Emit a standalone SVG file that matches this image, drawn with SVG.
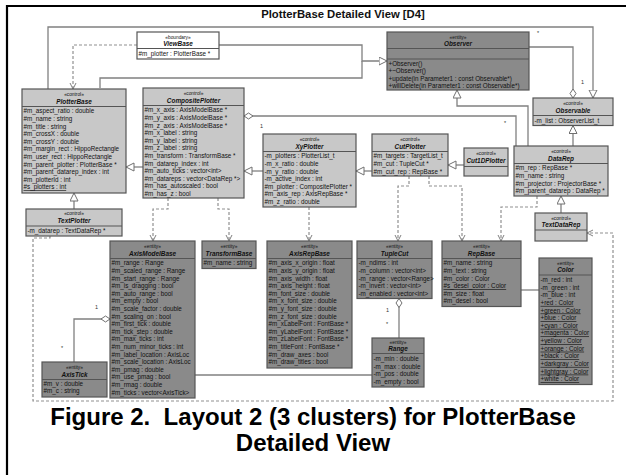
<svg xmlns="http://www.w3.org/2000/svg" width="626" height="475" viewBox="0 0 626 475">
<defs>
<style>
.ctl{fill:#c8c8c8;stroke:#555;stroke-width:1.2}
.ent{fill:#8a8a8a;stroke:#555;stroke-width:1.2}
.bnd{fill:#fff;stroke:#555;stroke-width:1.2}
.sep{fill:none;stroke:#555;stroke-width:1}
.st{font-family:"Liberation Sans",Arial,sans-serif;font-size:4.8px;text-anchor:middle;fill:#111}
.nm{font-family:"Liberation Sans",Arial,sans-serif;font-size:6.4px;font-weight:bold;font-style:italic;text-anchor:middle;fill:#111}
.at{font-family:"Liberation Sans",Arial,sans-serif;font-size:6.3px;fill:#111}
.u{text-decoration:underline}
.c{fill:none;stroke:#808080;stroke-width:1.3}
.d{fill:none;stroke:#909090;stroke-width:1.2;stroke-dasharray:3 2}
.lb{font-family:"Liberation Sans",Arial,sans-serif;font-size:5.5px;fill:#333}
</style>
<marker id="tri" markerUnits="userSpaceOnUse" markerWidth="10" markerHeight="10" viewBox="0 0 10 10" refX="8.5" refY="4.5" orient="auto"><path d="M0.5,0.5 L8.5,4.5 L0.5,8.5 z" fill="#fff" stroke="#707070" stroke-width="1"/></marker>
<marker id="arr" markerUnits="userSpaceOnUse" markerWidth="8" markerHeight="8" viewBox="0 0 8 8" refX="7" refY="3.5" orient="auto"><path d="M1,0.5 L7,3.5 L1,6.5" fill="none" stroke="#808080" stroke-width="1"/></marker>
<marker id="dia" markerUnits="userSpaceOnUse" markerWidth="12" markerHeight="8" viewBox="0 0 12 8" refX="0.5" refY="4" orient="auto"><path d="M0.5,4 L5,1 L9.5,4 L5,7 z" fill="#fff" stroke="#707070" stroke-width="1"/></marker>
</defs>
<rect width="626" height="475" fill="#fff"/>
<path d="M7,475 V6 H626" fill="none" stroke="#000" stroke-width="2.2"/>
<text x="343" y="18" font-family="Liberation Sans, Arial, sans-serif" font-size="11.3" font-weight="bold" text-anchor="middle" fill="#111">PlotterBase Detailed View [D4]</text>

<g id="connectors">
<path class="c" d="M48,89 V27 H593 V98" marker-end="url(#tri)"/>
<path class="c" d="M100,88 V78 H362 V61"/>
<path class="c" d="M219,45 H362 V61 H387" marker-end="url(#tri)"/>
<path class="d" d="M137,45 H73 V89" marker-end="url(#arr)"/>
<path class="c" d="M573,98 V47 H529" marker-start="url(#dia)"/>
<path class="c" d="M528,146 V106 H457 V90" marker-end="url(#tri)"/>
<path class="c" d="M244,116 H516 V146" marker-start="url(#dia)"/>
<path class="c" d="M573,146 V125.5" marker-end="url(#tri)"/>
<path class="c" d="M561,213 V196" marker-end="url(#tri)"/>
<path class="d" d="M537,196 V207 H501 V241" marker-end="url(#arr)"/>
<path class="d" d="M429,176 V186 H462 V241" marker-end="url(#arr)"/>
<path class="d" d="M409,176 V186 H398 V241" marker-end="url(#arr)"/>
<path class="c" d="M464,165 H448" marker-end="url(#tri)"/>
<path class="c" d="M372,171 H356" marker-end="url(#tri)"/>
<path class="c" d="M263,171 H244" marker-end="url(#tri)"/>
<path class="c" d="M143,167 H126" marker-end="url(#tri)"/>
<path class="c" d="M74,209 V193" marker-end="url(#tri)"/>
<path class="d" d="M168,198 V209 H153 V241" marker-end="url(#arr)"/>
<path class="d" d="M218,198 V209 H229 V241" marker-end="url(#arr)"/>
<path class="d" d="M309,207 V241" marker-end="url(#arr)"/>
<path class="c" d="M399,298.5 V338" marker-start="url(#dia)"/>
<path class="c" d="M110,319 H74 V362" marker-start="url(#dia)"/>
<path class="c" d="M195,375 H372"/>
<path class="c" d="M521,290 H539"/>
<path class="d" d="M50,236 V238 H33 V401 H613 V233 H587" marker-end="url(#arr)"/>
<text class="lb" x="537" y="35">*</text>
<text class="lb" x="581" y="84">1</text>
<text class="lb" x="260" y="128">1</text>
<text class="lb" x="504" y="125">*</text>
<text class="lb" x="386" y="312">1</text>
<text class="lb" x="386" y="326">*</text>
<text class="lb" x="95" y="309">1</text>
<text class="lb" x="61" y="350">*</text>
</g>

<g id="ViewBase">
<rect class="bnd" x="137" y="32" width="82" height="27"/>
<path class="sep" d="M137,48.5 H219"/>
<text class="st" x="178" y="38.5">«boundary»</text>
<text class="nm" x="178" y="46">ViewBase</text>
<text class="at" x="138.5" y="56">#m_plotter : PlotterBase *</text>
</g>

<g id="PlotterBase">
<rect class="ctl" x="22" y="89" width="104" height="104"/>
<path class="sep" d="M22,106.5 H126"/>
<text class="st" x="74" y="96">«control»</text>
<text class="nm" x="74" y="103.5">PlotterBase</text>
<text class="at" x="23.5" y="113.3">#m_aspect_ratio : double</text>
<text class="at" x="23.5" y="120.9">#m_name : string</text>
<text class="at" x="23.5" y="128.5">#m_title : string</text>
<text class="at" x="23.5" y="136.1">#m_crossX : double</text>
<text class="at" x="23.5" y="143.7">#m_crossY : double</text>
<text class="at" x="23.5" y="151.3">#m_margin_rect : HippoRectangle</text>
<text class="at" x="23.5" y="158.9">#m_user_rect : HippoRectangle</text>
<text class="at" x="23.5" y="166.5">#m_parent_plotter : PlotterBase *</text>
<text class="at" x="23.5" y="174.1">#m_parent_datarep_index : int</text>
<text class="at" x="23.5" y="181.7">#m_plotterId : int</text>
<text class="at u" x="23.5" y="189.3">#s_plotters : int</text>
</g>

<g id="CompositePlotter">
<rect class="ctl" x="143" y="88" width="101" height="110"/>
<path class="sep" d="M143,105.5 H244"/>
<text class="st" x="193.5" y="95">«control»</text>
<text class="nm" x="193.5" y="102.5">CompositePlotter</text>
<text class="at" x="144.5" y="112.3">#m_x_axis : AxisModelBase *</text>
<text class="at" x="144.5" y="119.9">#m_y_axis : AxisModelBase *</text>
<text class="at" x="144.5" y="127.5">#m_z_axis : AxisModelBase *</text>
<text class="at" x="144.5" y="135.1">#m_x_label : string</text>
<text class="at" x="144.5" y="142.7">#m_y_label : string</text>
<text class="at" x="144.5" y="150.3">#m_z_label : string</text>
<text class="at" x="144.5" y="157.9">#m_transform : TransformBase *</text>
<text class="at" x="144.5" y="165.5">#m_datarep_index : int</text>
<text class="at" x="144.5" y="173.1">#m_auto_ticks : vector&lt;int&gt;</text>
<text class="at" x="144.5" y="180.7">#m_datareps : vector&lt;DataRep *&gt;</text>
<text class="at" x="144.5" y="188.3">#m_has_autoscaled : bool</text>
<text class="at" x="144.5" y="195.9">#m_has_z : bool</text>
</g>

<g id="Observer">
<rect class="ent" x="387" y="32" width="142" height="58"/>
<path class="sep" d="M387,48.5 H529 M387,59 H529"/>
<text class="st" x="458" y="39">«entity»</text>
<text class="nm" x="458" y="46">Observer</text>
<text class="at" x="388.5" y="65.5">+Observer()</text>
<text class="at" x="388.5" y="73">+~Observer()</text>
<text class="at" x="388.5" y="80.5">+update(in Parameter1 : const Observable*)</text>
<text class="at" x="388.5" y="88">+willDelete(in Parameter1 : const Observable*)</text>
</g>

<g id="Observable">
<rect class="ctl" x="533" y="98" width="80" height="27.5"/>
<path class="sep" d="M533,115.5 H613"/>
<text class="st" x="573" y="105">«control»</text>
<text class="nm" x="573" y="112.5">Observable</text>
<text class="at" x="534.5" y="122.5">-m_list : ObserverList_t</text>
</g>

<g id="DataRep">
<rect class="ctl" x="514" y="146" width="94" height="50"/>
<path class="sep" d="M514,163.5 H608"/>
<text class="st" x="561" y="153">«control»</text>
<text class="nm" x="561" y="160.5">DataRep</text>
<text class="at" x="515.5" y="170.3">#m_rep : RepBase *</text>
<text class="at" x="515.5" y="177.9">#m_name : string</text>
<text class="at" x="515.5" y="185.5">#m_projector : ProjectorBase *</text>
<text class="at" x="515.5" y="193.1">#m_parent_datarep : DataRep *</text>
</g>

<g id="XyPlotter">
<rect class="ctl" x="263" y="134" width="93" height="73"/>
<path class="sep" d="M263,151.5 H356"/>
<text class="st" x="309.5" y="141">«control»</text>
<text class="nm" x="309.5" y="148.5">XyPlotter</text>
<text class="at" x="264.5" y="158.3">-m_plotters : PlotterList_t</text>
<text class="at" x="264.5" y="165.9">-m_x_ratio : double</text>
<text class="at" x="264.5" y="173.5">-m_y_ratio : double</text>
<text class="at" x="264.5" y="181.1">-m_active_index : int</text>
<text class="at" x="264.5" y="188.7">#m_plotter : CompositePlotter *</text>
<text class="at" x="264.5" y="196.3">#m_axis_rep : AxisRepBase *</text>
<text class="at" x="264.5" y="203.9">#m_z_ratio : double</text>
</g>

<g id="CutPlotter">
<rect class="ctl" x="372" y="134" width="76" height="42"/>
<path class="sep" d="M372,151.5 H448"/>
<text class="st" x="410" y="141">«control»</text>
<text class="nm" x="410" y="148.5">CutPlotter</text>
<text class="at" x="373.5" y="158.3">#m_targets : TargetList_t</text>
<text class="at" x="373.5" y="165.9">#m_cut : TupleCut *</text>
<text class="at" x="373.5" y="173.5">#m_cut_rep : RepBase *</text>
</g>

<g id="Cut1DPlotter">
<rect class="ctl" x="464" y="148" width="44" height="28"/>
<path class="sep" d="M464,166.5 H508"/>
<text class="st" x="486" y="155">«control»</text>
<text class="nm" x="486" y="163">Cut1DPlotter</text>
</g>

<g id="TextPlotter">
<rect class="ctl" x="26" y="209" width="96" height="27"/>
<path class="sep" d="M26,226 H122"/>
<text class="st" x="74" y="215">«control»</text>
<text class="nm" x="74" y="222.5">TextPlotter</text>
<text class="at" x="27.5" y="232.8">-m_datarep : TextDataRep *</text>
</g>

<g id="TextDataRep">
<rect class="ctl" x="535" y="213" width="52" height="28"/>
<path class="sep" d="M535,230 H587"/>
<text class="st" x="561" y="219.5">«control»</text>
<text class="nm" x="561" y="227">TextDataRep</text>
</g>

<g id="AxisModelBase">
<rect class="ent" x="110" y="241" width="85" height="157"/>
<path class="sep" d="M110,258.5 H195"/>
<text class="st" x="152.5" y="248">«entity»</text>
<text class="nm" x="152.5" y="255.5">AxisModelBase</text>
<text class="at" x="111.5" y="265.3">#m_range : Range</text>
<text class="at" x="111.5" y="272.9">#m_scaled_range : Range</text>
<text class="at" x="111.5" y="280.5">#m_start_range : Range</text>
<text class="at" x="111.5" y="288.1">#m_is_dragging : bool</text>
<text class="at" x="111.5" y="295.7">#m_auto_range : bool</text>
<text class="at" x="111.5" y="303.3">#m_empty : bool</text>
<text class="at" x="111.5" y="310.9">#m_scale_factor : double</text>
<text class="at" x="111.5" y="318.5">#m_scaling_on : bool</text>
<text class="at" x="111.5" y="326.1">#m_first_tick : double</text>
<text class="at" x="111.5" y="333.7">#m_tick_step : double</text>
<text class="at" x="111.5" y="341.3">#m_max_ticks : int</text>
<text class="at" x="111.5" y="348.9">#m_num_minor_ticks : int</text>
<text class="at" x="111.5" y="356.5">#m_label_location : AxisLoc</text>
<text class="at" x="111.5" y="364.1">#m_scale_location : AxisLoc</text>
<text class="at" x="111.5" y="371.7">#m_pmag : double</text>
<text class="at" x="111.5" y="379.3">#m_use_pmag : bool</text>
<text class="at" x="111.5" y="386.9">#m_rmag : double</text>
<text class="at" x="111.5" y="394.5">#m_ticks : vector&lt;AxisTick&gt;</text>
</g>

<g id="TransformBase">
<rect class="ent" x="202" y="241" width="54" height="27.5"/>
<path class="sep" d="M202,258.5 H256"/>
<text class="st" x="229" y="248">«entity»</text>
<text class="nm" x="229" y="255.5">TransformBase</text>
<text class="at" x="203.5" y="265.3">#m_name : string</text>
</g>

<g id="AxisRepBase">
<rect class="ent" x="267" y="241" width="85" height="127"/>
<path class="sep" d="M267,258.5 H352"/>
<text class="st" x="309.5" y="248">«entity»</text>
<text class="nm" x="309.5" y="255.5">AxisRepBase</text>
<text class="at" x="268.5" y="265.3">#m_axis_x_origin : float</text>
<text class="at" x="268.5" y="272.9">#m_axis_y_origin : float</text>
<text class="at" x="268.5" y="280.5">#m_axis_width : float</text>
<text class="at" x="268.5" y="288.1">#m_axis_height : float</text>
<text class="at" x="268.5" y="295.7">#m_font_size : double</text>
<text class="at" x="268.5" y="303.3">#m_x_font_size : double</text>
<text class="at" x="268.5" y="310.9">#m_y_font_size : double</text>
<text class="at" x="268.5" y="318.5">#m_z_font_size : double</text>
<text class="at" x="268.5" y="326.1">#m_xLabelFont : FontBase *</text>
<text class="at" x="268.5" y="333.7">#m_yLabelFont : FontBase *</text>
<text class="at" x="268.5" y="341.3">#m_zLabelFont : FontBase *</text>
<text class="at" x="268.5" y="348.9">#m_titleFont : FontBase *</text>
<text class="at" x="268.5" y="356.5">#m_draw_axes : bool</text>
<text class="at" x="268.5" y="364.1">#m_draw_titles : bool</text>
</g>

<g id="TupleCut">
<rect class="ent" x="357" y="241" width="75" height="57.5"/>
<path class="sep" d="M357,258.5 H432"/>
<text class="st" x="394.5" y="248">«entity»</text>
<text class="nm" x="394.5" y="255.5">TupleCut</text>
<text class="at" x="358.5" y="265.3">-m_ndims : int</text>
<text class="at" x="358.5" y="272.9">-m_column : vector&lt;int&gt;</text>
<text class="at" x="358.5" y="280.5">-m_range : vector&lt;Range&gt;</text>
<text class="at" x="358.5" y="288.1">-m_invert : vector&lt;int&gt;</text>
<text class="at" x="358.5" y="295.7">-m_enabled : vector&lt;int&gt;</text>
</g>

<g id="Range">
<rect class="ent" x="372" y="338" width="52" height="49"/>
<path class="sep" d="M372,353.5 H424"/>
<text class="st" x="398" y="343.5">«entity»</text>
<text class="nm" x="398" y="350.5">Range</text>
<text class="at" x="373.5" y="361.2">-m_min : double</text>
<text class="at" x="373.5" y="368.8">-m_max : double</text>
<text class="at" x="373.5" y="376.4">-m_pos : double</text>
<text class="at" x="373.5" y="384">-m_empty : bool</text>
</g>

<g id="RepBase">
<rect class="ent" x="442" y="241" width="79" height="65.5"/>
<path class="sep" d="M442,258.5 H521"/>
<text class="st" x="481.5" y="248">«entity»</text>
<text class="nm" x="481.5" y="255.5">RepBase</text>
<text class="at" x="443.5" y="265.3">#m_name : string</text>
<text class="at" x="443.5" y="272.9">#m_text : string</text>
<text class="at" x="443.5" y="280.5">#m_color : Color</text>
<text class="at u" x="443.5" y="288.1">#s_desel_color : Color</text>
<text class="at" x="443.5" y="295.7">#m_size : float</text>
<text class="at" x="443.5" y="303.3">#m_desel : bool</text>
</g>

<g id="Color">
<rect class="ent" x="539" y="258" width="53" height="126.5"/>
<path class="sep" d="M539,275 H592"/>
<text class="st" x="565.5" y="264.5">«entity»</text>
<text class="nm" x="565.5" y="272">Color</text>
<text class="at" x="540.5" y="282">-m_red : int</text>
<text class="at" x="540.5" y="289.6">-m_green : int</text>
<text class="at" x="540.5" y="297.3">-m_blue : int</text>
<text class="at u" x="540.5" y="304.9">+red : Color</text>
<text class="at u" x="540.5" y="312.5">+green : Color</text>
<text class="at u" x="540.5" y="320.2">+blue : Color</text>
<text class="at u" x="540.5" y="327.8">+cyan : Color</text>
<text class="at u" x="540.5" y="335.4">+magenta : Color</text>
<text class="at u" x="540.5" y="343">+yellow : Color</text>
<text class="at u" x="540.5" y="350.7">+orange : Color</text>
<text class="at u" x="540.5" y="358.3">+black : Color</text>
<text class="at u" x="540.5" y="365.9">+darkgray : Color</text>
<text class="at u" x="540.5" y="373.6">+lightgray : Color</text>
<text class="at u" x="540.5" y="381.2">+white : Color</text>
</g>

<g id="AxisTick">
<rect class="ent" x="42" y="362" width="65" height="35"/>
<path class="sep" d="M42,379.5 H107"/>
<text class="st" x="74.5" y="369">«entity»</text>
<text class="nm" x="74.5" y="376.5">AxisTick</text>
<text class="at" x="43.5" y="386">#m_v : double</text>
<text class="at" x="43.5" y="393.3">#m_c : string</text>
</g>

<g id="caption" font-family="Liberation Sans, Arial, sans-serif" font-size="24" font-weight="bold" text-anchor="middle" fill="#000">
<text x="313" y="425">Figure 2.&#160; Layout 2 (3 clusters) for PlotterBase</text>
<text x="313" y="451">Detailed View</text>
</g>
</svg>
